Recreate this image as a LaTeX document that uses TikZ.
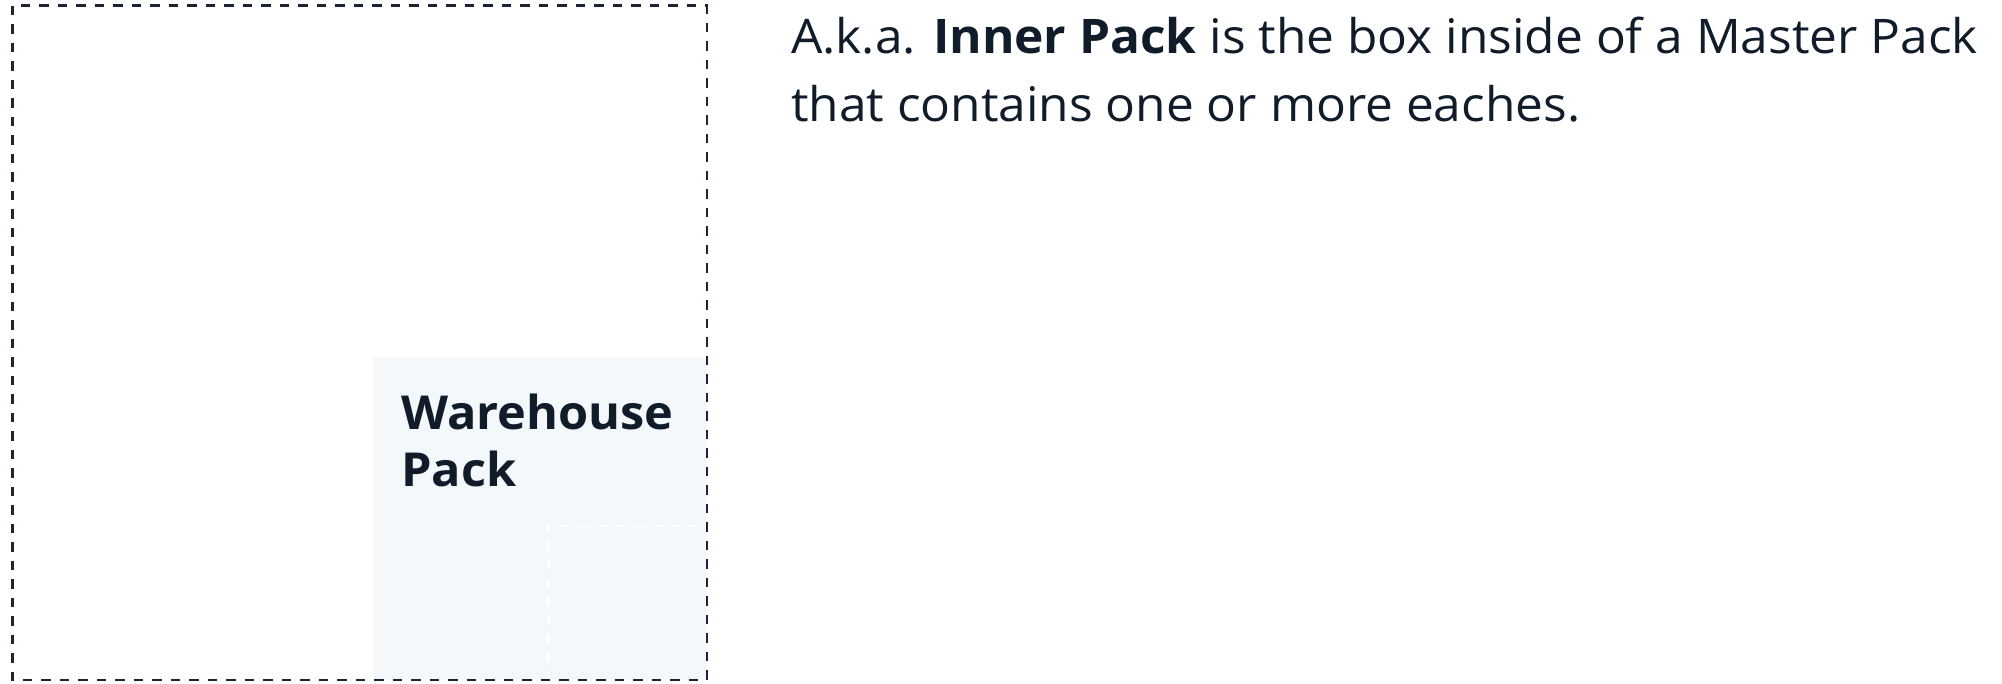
\documentclass[tikz,border=0pt]{standalone}
\usepackage{fontspec}
\setmainfont{Open Sans}[FakeStretch=1.04]
\definecolor{ink}{HTML}{111C2A}
\definecolor{edge}{HTML}{1C2533}
\definecolor{panel}{HTML}{F4F8FB}
\begin{document}
\begin{tikzpicture}[x=1pt,y=-1pt,
  outerbox/.style={draw=edge,line width=2.4pt,dash pattern=on 9.5pt off 9pt},
  innerbox/.style={draw=white,line width=2.5pt,dash pattern=on 9pt off 9.5pt},
  desc/.style={inner sep=0pt,anchor=base west,text=ink,font=\fontsize{47.7}{68}\selectfont},
  title/.style={inner sep=0pt,anchor=base west,text=ink,font=\fontsize{46.8}{57}\selectfont\bfseries}]
\useasboundingbox (0,0) rectangle (2002,684);
\fill[panel] (374,356.7) rectangle (706.7,680);
\draw[innerbox] (548.3,680) -- (548.3,526) -- (706.7,526);
\draw[outerbox] (12.3,5.7) rectangle (706.7,680);
\node[title] (t1) at (401,429.3) {Warehouse};
\node[title] (t2) at (401,486.7) {Pack};
\node[desc] (d1) at (791,53.3) {A.k.a. \textbf{Inner Pack} is the box inside of a Master Pack};
\node[desc] (d2) at (791,121.7) {that contains one or more eaches.};
\end{tikzpicture}
\end{document}
